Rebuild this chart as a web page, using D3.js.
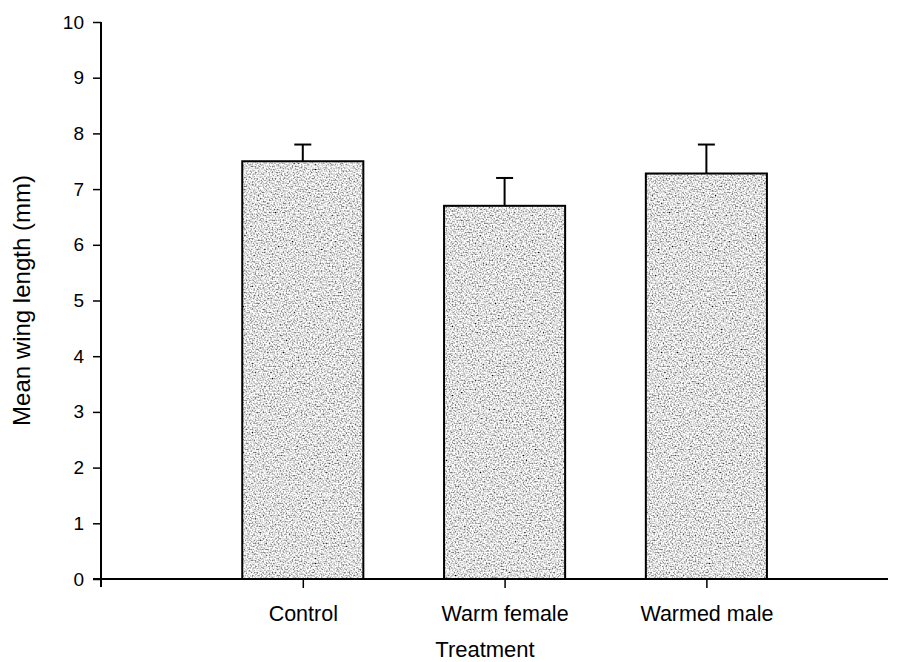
<!DOCTYPE html>
<html>
<head>
<meta charset="utf-8">
<script src="https://cdn.jsdelivr.net/npm/d3@7"></script>
<style>
  html, body { margin: 0; padding: 0; background: #fff; }
  svg { display: block; }
  text { font-family: Arial, "Liberation Sans", Helvetica, sans-serif; fill: #000; }
</style>
</head>
<body>
<svg id="chart" width="904" height="662"></svg>
<script>
// Mean wing length by treatment, with upper error bars
const categories = ["Control", "Warm female", "Warmed male"];
const means = [7.5, 6.7, 7.28];
const errors = [0.3, 0.5, 0.52];
const yTicks = [0, 1, 2, 3, 4, 5, 6, 7, 8, 9, 10];

const svg = d3.select("#chart");

// stippled grey fill for the bars
const defs = svg.append("defs");
const grain = defs.append("filter").attr("id", "grain");
grain.append("feTurbulence")
  .attr("type", "fractalNoise").attr("baseFrequency", 0.65)
  .attr("numOctaves", 1).attr("seed", 7).attr("result", "noise");
grain.append("feColorMatrix")
  .attr("in", "noise").attr("type", "matrix")
  .attr("values", "2.4 0 0 0 -0.46  2.4 0 0 0 -0.46  2.4 0 0 0 -0.46  0 0 0 0 1")
  .attr("result", "speckle");
grain.append("feComposite")
  .attr("in", "speckle").attr("in2", "SourceGraphic").attr("operator", "in");

const x = d3.scaleLinear().domain([0, 3.9]).range([101, 888]);
const y = d3.scaleLinear().domain([0, 10]).range([579, 22]);
const barWidth = 0.6;

const barX = i => x(i + 1 - barWidth / 2);
const barW = x(barWidth) - x(0);

// bar fills
svg.append("g").selectAll("rect")
  .data(means)
  .join("rect")
  .attr("x", (d, i) => barX(i))
  .attr("y", d => y(d))
  .attr("width", barW)
  .attr("height", d => y(0) - y(d))
  .attr("fill", "#c0c0c0")
  .attr("filter", "url(#grain)");

// bar outlines
svg.append("g").selectAll("rect")
  .data(means)
  .join("rect")
  .attr("x", (d, i) => barX(i))
  .attr("y", d => y(d))
  .attr("width", barW)
  .attr("height", d => y(0) - y(d))
  .attr("fill", "none")
  .attr("stroke", "#000")
  .attr("stroke-width", 2);

// error bars (upper whisker with cap)
const eb = svg.append("g").attr("stroke", "#000").attr("stroke-width", 2);
means.forEach((m, i) => {
  const cx = x(i + 1);
  eb.append("line").attr("x1", cx).attr("x2", cx).attr("y1", y(m)).attr("y2", y(m + errors[i]));
  eb.append("line").attr("x1", cx - 8.5).attr("x2", cx + 8.5).attr("y1", y(m + errors[i])).attr("y2", y(m + errors[i]));
});

// y axis
const yAxis = svg.append("g")
  .attr("transform", `translate(${x(0)},0)`)
  .call(d3.axisLeft(y).tickValues(yTicks).tickSize(8).tickPadding(9).tickFormat(d3.format("d")));
yAxis.select(".domain").attr("stroke-width", 2).attr("d", `M0,${y(10)}H0V${y(0) + 8}`);
yAxis.selectAll(".tick line").attr("stroke-width", 1.5);
yAxis.selectAll("text").attr("font-size", 19);

// x axis
const xAxis = svg.append("g")
  .attr("transform", `translate(0,${y(0)})`)
  .call(d3.axisBottom(x).tickValues([1, 2, 3]).tickSize(9).tickPadding(18)
    .tickFormat(d => categories[d - 1]));
xAxis.select(".domain").attr("stroke-width", 2).attr("d", `M${x(0) - 8},0H${x(3.9)}`);
xAxis.selectAll(".tick line").attr("stroke-width", 1.5);
xAxis.selectAll("text").attr("font-size", 21.5);

// axis titles
svg.append("text")
  .attr("transform", `translate(30,${(y(0) + y(10)) / 2}) rotate(-90)`)
  .attr("text-anchor", "middle")
  .attr("font-size", 24)
  .text("Mean wing length (mm)");

svg.append("text")
  .attr("x", 485)
  .attr("y", 657)
  .attr("text-anchor", "middle")
  .attr("font-size", 22)
  .text("Treatment");
</script>
</body>
</html>
